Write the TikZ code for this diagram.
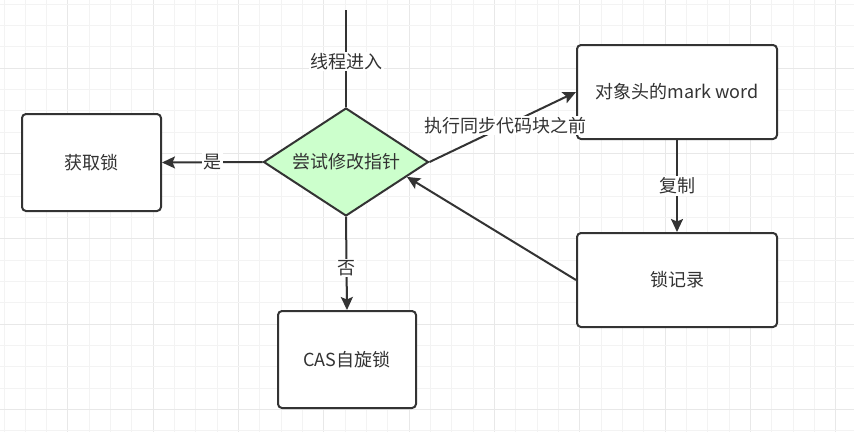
\documentclass[tikz,border=0pt]{standalone}
\usepackage{fontspec}
\setmainfont{Noto Sans CJK SC}
\usetikzlibrary{shapes.geometric,arrows.meta,calc}
\definecolor{ink}{HTML}{333333}
\definecolor{minorgrid}{HTML}{F3F3F3}
\definecolor{majorgrid}{HTML}{E8E8E8}
\definecolor{dfill}{HTML}{CCFFCC}
\tikzset{
  txt/.style={font=\fontsize{18}{22}\selectfont},
  box/.style={draw=ink, line width=2pt, rounded corners=4pt, fill=white, text=ink,
    inner sep=0pt, txt},
  choice/.style={diamond, draw=ink, line width=2pt, fill=dfill, text=ink, inner sep=0pt,
    aspect=1.53, minimum width=165pt, minimum height=108pt, txt},
  conn/.style={draw=ink, line width=2pt},
  arr/.style={conn, -{Stealth[length=13pt, width=12pt, inset=2.5pt]}},
  lbl/.style={fill=white, text=ink, inner sep=1.5pt, txt}
}
\begin{document}
\begin{tikzpicture}[x=1pt, y=-1pt]
\useasboundingbox (0,0) rectangle (854,432);
\fill[white] (0,0) rectangle (854,432);
% grid
\foreach \k in {0,...,40} {
  \pgfmathsetmacro{\xx}{4+21.333*\k}
  \pgfmathtruncatemacro{\m}{mod(\k+1,4)}
  \ifnum\m=0
    \draw[majorgrid, line width=1pt] (\xx,0) -- (\xx,432);
  \else
    \draw[minorgrid, line width=1pt] (\xx,0) -- (\xx,432);
  \fi
}
\foreach \k in {0,...,20} {
  \pgfmathsetmacro{\yy}{4+21.333*\k}
  \pgfmathtruncatemacro{\m}{mod(\k+1,4)}
  \ifnum\m=0
    \draw[majorgrid, line width=1pt] (0,\yy) -- (854,\yy);
  \else
    \draw[minorgrid, line width=1pt] (0,\yy) -- (854,\yy);
  \fi
}
% nodes
\node[box, minimum width=139pt, minimum height=97pt] (lock) at (91.5,162.5) {获取锁};
\node[choice] (dia) at (346,162) {尝试修改指针};
\node[box, minimum width=138pt, minimum height=97pt] (cas) at (347,359.5) {CAS自旋锁};
\node[box, minimum width=200pt, minimum height=94pt] (mark) at (677,92) {对象头的mark word};
\node[box, minimum width=200pt, minimum height=94pt] (rec) at (677,280) {锁记录};
\coordinate (entry) at (346,10);
% connectors
\draw[conn] (entry) -- node[lbl, pos=0.53] {线程进入} (dia.north);
\draw[arr] (dia.west) -- node[lbl, pos=0.5] {是} (lock.east);
\draw[arr] (dia.south) -- node[lbl, pos=0.55] {否} (cas.north);
\draw[arr] (dia.east) -- node[lbl, pos=0.52] {执行同步代码块之前} (mark.west);
\draw[arr] (mark.south) -- node[lbl, pos=0.5] {复制} (rec.north);
\draw[arr] (rec.west) -- ($(dia.east)!0.27!(dia.south)$);
\end{tikzpicture}
\end{document}
